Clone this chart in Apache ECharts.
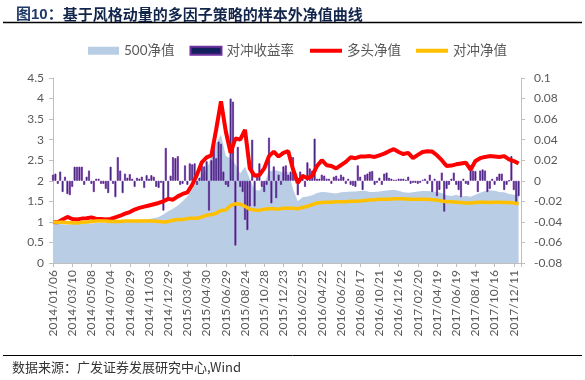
<!DOCTYPE html>
<html><head><meta charset="utf-8">
<script src="https://cdn.jsdelivr.net/npm/echarts@6/dist/echarts.min.js"></script>
<style>html,body{margin:0;padding:0;background:#fff}#c{width:585px;height:380px}</style>
</head><body><div id="c"></div>
<script>
// x tick labels (every 40 trading days)
const xTickLabels = ['2014/01/06','2014/03/10','2014/05/08','2014/07/04','2014/08/29','2014/11/03','2014/12/29',
  '2015/03/04','2015/04/30','2015/06/29','2015/08/24','2015/10/28','2015/12/23','2016/02/25','2016/04/22',
  '2016/06/22','2016/08/17','2016/10/21','2016/12/16','2017/02/20','2017/04/19','2017/06/19','2017/08/14',
  '2017/10/16','2017/12/11'];
const X_MAX = 975;          // trading days shown
const X_INTERVAL = 40;      // trading days between labels
const LINE_STEP = 10;       // sampling of NAV series (trading days)
const BAR_STEP = 5;         // sampling of hedge return bars (trading days)

// 500净值 (left axis)
const csi500Nav = [0.97,0.95,0.94,0.93,0.95,0.96,0.95,0.96,0.96,0.97,
  0.98,0.98,0.99,1.00,1.01,1.02,1.03,1.04,1.05,1.06,
  1.07,1.09,1.12,1.18,1.26,1.32,1.40,1.50,1.62,1.80,
  1.98,2.14,2.26,2.60,2.92,3.12,2.60,2.55,2.40,2.18,
  2.34,2.05,1.78,1.76,1.95,2.22,2.26,2.24,2.20,2.22,
  1.80,1.50,1.60,1.62,1.65,1.70,1.73,1.72,1.70,1.69,
  1.72,1.73,1.74,1.74,1.75,1.76,1.73,1.73,1.74,1.76,
  1.77,1.78,1.76,1.72,1.71,1.72,1.74,1.75,1.75,1.74,
  1.73,1.70,1.65,1.63,1.66,1.62,1.63,1.61,1.66,1.71,
  1.75,1.77,1.76,1.73,1.72,1.68,1.66,1.67];

// 多头净值 (left axis)
const longNav = [1.00,0.99,1.06,1.12,1.07,1.06,1.08,1.09,1.11,1.07,
  1.07,1.06,1.07,1.11,1.15,1.20,1.24,1.30,1.34,1.37,
  1.40,1.43,1.46,1.50,1.56,1.54,1.62,1.68,1.72,1.90,
  2.15,2.45,2.57,2.62,3.25,3.93,3.20,2.68,3.03,3.00,
  3.24,2.30,2.12,2.14,2.30,2.60,2.71,2.59,2.68,2.72,
  2.28,1.95,2.12,2.06,2.12,2.36,2.50,2.38,2.36,2.30,
  2.38,2.46,2.57,2.55,2.59,2.59,2.60,2.58,2.62,2.66,
  2.72,2.77,2.70,2.65,2.68,2.55,2.63,2.70,2.72,2.71,
  2.62,2.50,2.36,2.37,2.40,2.42,2.44,2.27,2.48,2.55,
  2.58,2.60,2.59,2.58,2.60,2.52,2.48,2.42];

// 对冲净值 (left axis)
const hedgeNav = [1.00,0.99,0.99,0.98,0.98,0.97,0.99,1.00,1.01,1.02,
  1.02,1.02,1.01,1.01,1.01,1.02,1.02,1.02,1.02,1.02,
  1.02,1.02,1.01,1.00,1.01,1.04,1.06,1.06,1.08,1.09,
  1.09,1.12,1.16,1.18,1.21,1.28,1.29,1.40,1.44,1.43,
  1.38,1.31,1.29,1.28,1.31,1.32,1.32,1.31,1.33,1.33,
  1.33,1.32,1.35,1.38,1.42,1.46,1.47,1.48,1.48,1.49,
  1.49,1.49,1.50,1.50,1.51,1.52,1.53,1.54,1.55,1.55,
  1.55,1.56,1.56,1.56,1.55,1.55,1.55,1.55,1.55,1.54,
  1.53,1.51,1.49,1.49,1.48,1.47,1.46,1.46,1.47,1.48,
  1.48,1.47,1.48,1.48,1.47,1.47,1.46,1.44];

// 对冲收益率 (right axis), weekly
const hedgeReturn = [0.006,0.007,-0.003,0.009,-0.011,0.004,-0.013,-0.014,-0.006,0.0137,
  0.0137,0.0137,0.0137,-0.004,0.004,0.010,-0.003,-0.011,0.002,0.002,
  -0.003,-0.003,-0.008,-0.012,0.0137,-0.003,-0.016,0.023,0.010,-0.012,
  0.007,0.003,0.0065,0.002,-0.006,0.003,0.002,0.004,-0.007,0.0055,
  0.002,0.0055,0.004,-0.006,-0.007,-0.002,-0.029,0.032,-0.017,0.005,
  0.023,0.022,0.024,-0.004,-0.003,0.015,-0.004,0.017,0.016,0.017,
  -0.004,0.003,0.015,0.014,0.019,-0.029,0.020,0.032,0.022,0.038,
  0.036,0.009,-0.004,-0.006,0.080,0.077,-0.063,0.033,-0.006,-0.011,
  -0.038,-0.048,-0.025,0.040,-0.025,0.006,0.017,-0.006,-0.011,-0.004,
  0.042,-0.022,0.014,-0.017,0.006,-0.004,0.014,0.015,0.006,0.009,
  0.023,0.007,-0.014,0.009,0.006,-0.006,0.018,0.012,0.010,0.041,
  0.002,0.002,0.006,0.005,0.002,0.002,-0.003,0.004,0.005,0.002,
  0.006,0.004,-0.003,0.002,-0.004,-0.005,-0.006,0.015,0.004,-0.009,
  0.006,0.007,0.009,0.0095,-0.004,-0.002,0.003,-0.004,0.007,0.008,
  0.003,0.002,0.001,0.001,0.002,0.002,0.002,0.001,0.004,-0.003,
  -0.002,-0.002,-0.003,-0.002,0.001,0.002,-0.003,0.006,-0.011,0.002,
  -0.015,-0.009,0.008,-0.030,-0.008,-0.004,0.002,0.008,-0.004,-0.009,
  -0.016,0.002,-0.003,-0.004,0.015,0.010,0.0095,-0.011,0.010,0.011,
  0.010,-0.011,-0.008,0.002,-0.004,0.004,0.007,0.007,-0.009,-0.004,
  0.000,0.024,-0.009,-0.022,-0.015];

const leftTicks = {min:0, max:4.5, interval:0.5};
const rightTicks = {min:-0.08, max:0.1, interval:0.02};

const toXY = (arr, step) => arr.map((v, i) => [i * step, v]);
const axisGray = '#BFBFBF';
const labelGray = '#595959';
const latin = 'Lato';
const cjk = "Lato, 'Noto Sans CJK SC'";

const chart = echarts.init(document.getElementById('c'), null, {renderer: 'canvas'});
chart.setOption({
  animation: false,
  backgroundColor: '#fff',
  title: {
    text: '{a|图10：}{b|基于风格动量的多因子策略的样本外净值曲线}',
    left: 11, top: 2,
    textStyle: {
      rich: {
        a: {fontSize: 15, fontWeight: 'bold', color: '#1F3A68', fontFamily: "Arial, 'Noto Sans CJK SC'"},
        b: {fontSize: 15, fontWeight: 'bold', color: '#12254A', fontFamily: "'Noto Sans CJK SC'"}
      }
    }
  },
  graphic: [
    {type: 'line', shape: {x1: 3, y1: 22.5, x2: 582, y2: 22.5}, style: {stroke: '#000', lineWidth: 1.5}},
    {type: 'line', shape: {x1: 3, y1: 355.5, x2: 582, y2: 355.5}, style: {stroke: '#000', lineWidth: 1}},
    {type: 'text', left: 12, top: 361, style: {text: '数据来源：广发证券发展研究中心,Wind', fontSize: 13, fill: '#333', fontFamily: "'Noto Sans CJK SC'"}}
  ],
  legend: [
    {
      data: [{name: '500净值', icon: 'rect'}, {name: '对冲收益率', icon: 'rect'}],
      left: 83, top: 39, itemWidth: 31, itemHeight: 8, itemGap: 15,
      textStyle: {color: labelGray, fontSize: 13.5, fontFamily: cjk}
    },
    {
      data: [{name: '多头净值', icon: 'rect'}, {name: '对冲净值', icon: 'rect'}],
      left: 305, top: 39, itemWidth: 32, itemHeight: 4, itemGap: 15,
      textStyle: {color: labelGray, fontSize: 13.5, fontFamily: cjk}
    }
  ],
  grid: {left: 53, right: 64, top: 78, bottom: 117, containLabel: false},
  xAxis: {
    type: 'value', min: 0, max: X_MAX, interval: X_INTERVAL,
    axisLine: {show: true, lineStyle: {color: axisGray}},
    axisTick: {show: true, length: 4, lineStyle: {color: axisGray}},
    splitLine: {show: false},
    axisLabel: {
      rotate: 90, margin: 7, color: labelGray, fontSize: 12, fontFamily: latin,
      formatter: v => (v % X_INTERVAL === 0 && xTickLabels[v / X_INTERVAL]) ? xTickLabels[v / X_INTERVAL] : ''
    }
  },
  yAxis: [
    {
      type: 'value', position: 'left', ...leftTicks,
      axisLine: {show: true, lineStyle: {color: axisGray}},
      axisTick: {show: true, length: 4, lineStyle: {color: axisGray}},
      splitLine: {show: false},
      axisLabel: {color: labelGray, fontSize: 12, fontFamily: latin, margin: 9}
    },
    {
      type: 'value', position: 'right', ...rightTicks,
      axisLine: {show: true, lineStyle: {color: axisGray}},
      axisTick: {show: true, length: 4, lineStyle: {color: axisGray}},
      splitLine: {show: false},
      axisLabel: {color: labelGray, fontSize: 12, fontFamily: latin, margin: 13}
    }
  ],
  series: [
    {
      name: '500净值', type: 'line', yAxisIndex: 0, data: toXY(csi500Nav, LINE_STEP),
      symbol: 'none', lineStyle: {width: 0, color: '#B9CDE5'}, itemStyle: {color: '#B9CDE5'},
      areaStyle: {color: '#B9CDE5', opacity: 1}, z: 1
    },
    {
      name: '对冲收益率', type: 'bar', yAxisIndex: 1, data: toXY(hedgeReturn, BAR_STEP),
      barWidth: 2, itemStyle: {color: '#14205E', borderColor: '#7030A0', borderWidth: 0.8}, z: 2
    },
    {
      name: '多头净值', type: 'line', yAxisIndex: 0, data: toXY(longNav, LINE_STEP),
      symbol: 'none', lineStyle: {width: 4, color: '#FF0000'}, itemStyle: {color: '#FF0000'}, z: 3
    },
    {
      name: '对冲净值', type: 'line', yAxisIndex: 0, data: toXY(hedgeNav, LINE_STEP),
      symbol: 'none', lineStyle: {width: 3.5, color: '#FFC000'}, itemStyle: {color: '#FFC000'}, z: 4
    }
  ]
});
</script></body></html>
